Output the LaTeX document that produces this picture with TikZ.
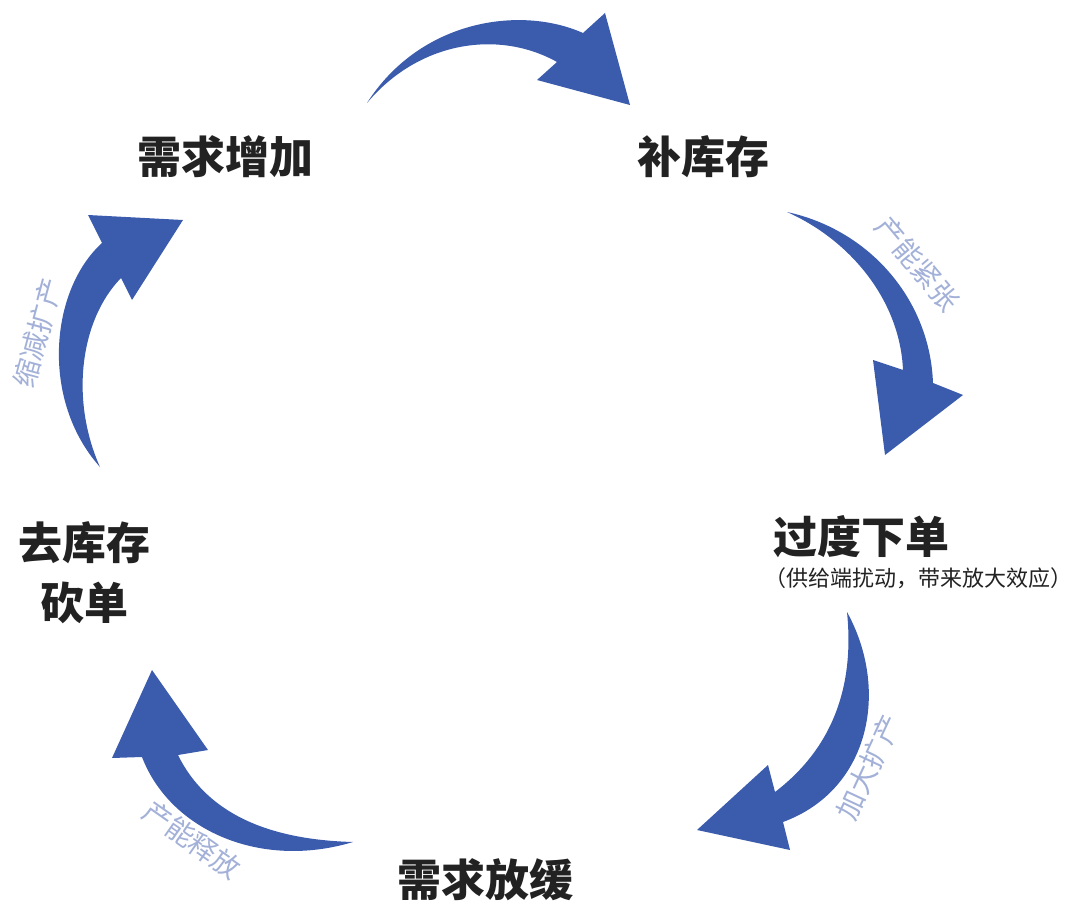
\documentclass[tikz,border=0pt]{standalone}
\usepackage{fontspec}
\setmainfont{Noto Sans CJK SC}
\usetikzlibrary{positioning}
\definecolor{arrowblue}{HTML}{3B5CAD}
\definecolor{tagblue}{HTML}{A3B1D8}
\definecolor{inkgray}{HTML}{222222}

\begin{document}
\begin{tikzpicture}[x=1pt,y=-1pt,
  stage/.style={text=inkgray,font=\fontsize{44}{60}\selectfont\bfseries,inner sep=0pt,align=center},
  note/.style={text=inkgray,font=\fontsize{22}{26}\selectfont,inner sep=0pt},
  tag/.style={text=tagblue,font=\fontsize{28}{30}\selectfont,inner sep=0pt},
  flow/.style={fill=arrowblue}]
\useasboundingbox (0,0) rectangle (1080,907);
% stages
\node[stage] (rise) at (225,157) {需求增加};
\node[stage] (stock) at (703,157) {补库存};
\node[stage,anchor=west] (over) at (773,537) {过度下单};
\node[note,anchor=west] (overnote) at (764,578) {（供给端扰动，带来放大效应）};
\node[stage] (slow) at (485,880) {需求放缓};
\node[stage] (cut) at (85,573) {去库存\\砍单};
% arrows
\fill[flow] (367,103) .. controls (420,20) and (520,5) .. (583,33) -- (605,13) -- (630,105)
  -- (537,80) -- (557,62) .. controls (500,30) and (420,40) .. cycle;
\fill[flow] (787,212) .. controls (870,230) and (930,300) .. (933,383) -- (963,395) -- (885,455)
  -- (873,360) -- (903,370) .. controls (900,300) and (850,240) .. cycle;
\fill[flow] (847,612) .. controls (890,690) and (870,790) .. (783,822) -- (790,850) -- (697,830)
  -- (768,765) -- (775,792) .. controls (830,750) and (855,690) .. cycle;
\fill[flow] (353,842) .. controls (260,870) and (170,830) .. (142,757) -- (112,758) -- (152,670)
  -- (208,750) -- (178,755) .. controls (210,820) and (280,840) .. cycle;
\fill[flow] (100,467) .. controls (40,400) and (50,290) .. (102,243) -- (88,215) -- (183,220)
  -- (132,300) -- (121,278) .. controls (80,320) and (70,400) .. cycle;
% arrow labels
\node[tag,rotate=-50] (tight) at (918,264) {产能紧张};
\node[tag,rotate=65] (expand) at (869,767) {加大扩产};
\node[tag,rotate=-35] (release) at (192,840) {产能释放};
\node[tag,rotate=75] (shrink) at (38,333) {缩减扩产};
\end{tikzpicture}
\end{document}
